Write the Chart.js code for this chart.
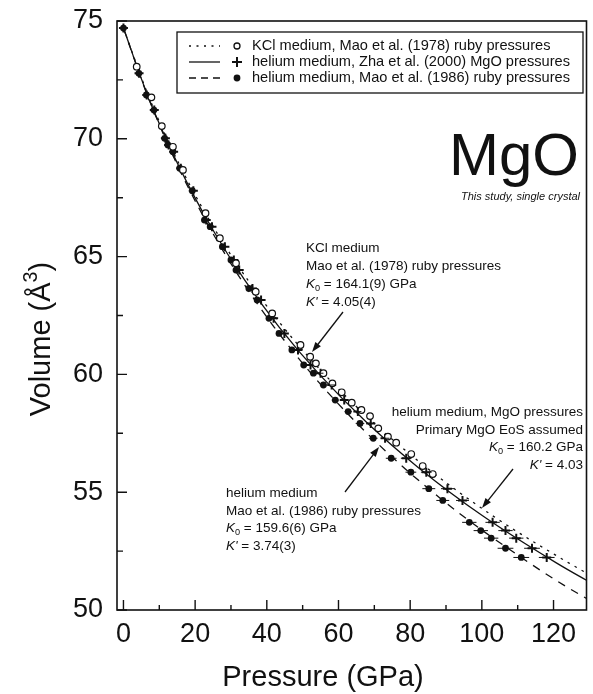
<!DOCTYPE html>
<html>
<head>
<meta charset="utf-8">
<script src="https://cdn.jsdelivr.net/npm/chart.js@4.4.1/dist/chart.umd.min.js"></script>
<style>
  html, body { margin: 0; padding: 0; background: #fff; }
  #wrap { width: 593px; height: 694px; }
</style>
</head>
<body>
<div id="wrap"><canvas id="eosChart"></canvas></div>
<script>
// ---- data: pressure P (GPa), volume V (Å^3) ----
const xTicks = [0, 20, 40, 60, 80, 100, 120];
const yTicks = [50, 55, 60, 65, 70, 75];

// KCl medium, Mao et al. (1978) ruby pressures
const kclP = [3.7, 7.8, 10.7, 13.8, 16.6, 22.9, 26.9, 31.4, 36.9, 41.5, 49.4, 52.1, 53.7, 55.8,
              58.3, 60.9, 63.7, 66.4, 68.8, 71.1, 73.8, 76.1, 80.3, 83.5, 86.3];
const kclV = [73.06, 71.76, 70.54, 69.66, 68.68, 66.84, 65.78, 64.72, 63.51, 62.59, 61.25, 60.75, 60.47, 60.05,
              59.62, 59.24, 58.80, 58.49, 58.23, 57.71, 57.36, 57.10, 56.62, 56.11, 55.77];

// helium medium: same volumes, two pressure scales
const heV     = [74.70, 72.78, 71.86, 71.22, 70.02, 69.74, 69.45, 68.75, 67.80, 66.55, 66.27, 65.42, 64.86, 64.43,
                 63.65, 63.16, 62.38, 61.74, 61.04, 60.40, 60.05, 59.55, 58.91, 58.42, 57.92, 57.29, 56.44, 55.85,
                 55.15, 54.65, 53.72, 53.37, 53.05, 52.62, 52.23];
const heRubyP = [0, 4.3, 6.4, 8.5, 11.5, 12.4, 13.8, 15.7, 19.2, 22.6, 24.2, 27.6, 30.0, 31.4,
                 35.0, 37.3, 40.6, 43.4, 47.0, 50.3, 53.0, 55.8, 59.1, 62.7, 66.0, 69.7, 74.7, 80.2,
                 85.2, 89.1, 96.5, 99.7, 102.6, 106.6, 111.0];
const heMgoP  = [0, 4.35, 6.5, 8.6, 11.7, 12.6, 14.0, 16.0, 19.5, 23.1, 24.7, 28.3, 30.8, 32.3,
                 36.0, 38.4, 41.9, 44.9, 48.7, 52.2, 55.0, 58.1, 61.6, 65.4, 69.0, 73.0, 78.9, 84.5,
                 90.4, 94.6, 103.0, 106.6, 109.6, 114.0, 118.1];
const heErrP  = [0, 0, 0, 0, 0, 0, 0, 0, 0, 0, 0, 0, 0, 0,
                 0, 0, 0.6, 0.6, 0.8, 0.8, 0.8, 1.0, 1.0, 1.0, 1.2, 1.2, 1.5, 1.5,
                 1.8, 1.8, 2.0, 2.0, 2.0, 2.2, 2.2];

// fitted EoS curves
const fitKclP  = [0, 6.51, 12.17, 18.66, 26.12, 34.72, 44.64, 56.12, 69.44, 84.93, 103.02, 124.23, 136.0];
const fitKclV  = [74.7, 72, 70, 68, 66, 64, 62, 60, 58, 56, 54, 52, 51];
const fitMgoP  = [0, 6.35, 11.87, 18.20, 25.47, 33.84, 43.49, 54.66, 67.60, 82.65, 100.21, 120.78, 132.2];
const fitMgoV  = [74.7, 72, 70, 68, 66, 64, 62, 60, 58, 56, 54, 52, 51];
const fitRubyP = [0, 6.29, 11.71, 17.87, 24.90, 32.92, 42.09, 52.60, 64.67, 78.57, 94.62, 113.23, 123.48, 134.86];
const fitRubyV = [74.7, 72, 70, 68, 66, 64, 62, 60, 58, 56, 54, 52, 51, 50];

const FONT = '"Liberation Sans", Arial, Helvetica, sans-serif';
const pts = (xs, ys) => xs.map((x, i) => ({ x: x, y: ys[i] }));

function richText(ctx, x, y, parts, size, align) {
  let w = 0;
  parts.forEach(p => {
    const s = (p.sub || p.sup) ? size * 0.68 : size;
    p._font = (p.italic ? 'italic ' : '') + s + 'px ' + FONT;
    ctx.font = p._font;
    p._w = ctx.measureText(p.t).width;
    w += p._w;
  });
  let cx = align === 'right' ? x - w : align === 'center' ? x - w / 2 : x;
  ctx.textAlign = 'left';
  ctx.textBaseline = 'middle';
  parts.forEach(p => {
    ctx.font = p._font;
    const dy = p.sub ? size * 0.32 : p.sup ? -size * 0.36 : 0;
    ctx.fillText(p.t, cx, y + dy);
    cx += p._w;
  });
}

function arrow(ctx, x1, y1, x2, y2) {
  const a = Math.atan2(y2 - y1, x2 - x1);
  ctx.beginPath();
  ctx.moveTo(x1, y1);
  ctx.lineTo(x2 - 6 * Math.cos(a), y2 - 6 * Math.sin(a));
  ctx.lineWidth = 1.3;
  ctx.stroke();
  ctx.beginPath();
  ctx.moveTo(x2, y2);
  ctx.lineTo(x2 - 10 * Math.cos(a) + 3.5 * Math.sin(a), y2 - 10 * Math.sin(a) - 3.5 * Math.cos(a));
  ctx.lineTo(x2 - 10 * Math.cos(a) - 3.5 * Math.sin(a), y2 - 10 * Math.sin(a) + 3.5 * Math.cos(a));
  ctx.closePath();
  ctx.fill();
}

// frame, inward ticks, axis titles, legend and labels
const decor = {
  id: 'decor',
  afterDatasetsDraw(chart) {
    const { ctx, chartArea: ca, scales: { x, y } } = chart;
    ctx.save();
    ctx.strokeStyle = '#111';
    ctx.fillStyle = '#111';

    // horizontal error bars on helium points
    ctx.lineWidth = 1;
    heV.forEach((v, i) => {
      const e = heErrP[i];
      if (!e) return;
      const py = y.getPixelForValue(v);
      [heRubyP[i], heMgoP[i]].forEach(p => {
        ctx.beginPath();
        ctx.moveTo(x.getPixelForValue(p - e), py);
        ctx.lineTo(x.getPixelForValue(p + e), py);
        ctx.stroke();
      });
    });

    // frame
    ctx.lineWidth = 1.6;
    ctx.strokeRect(ca.left, ca.top, ca.right - ca.left, ca.bottom - ca.top);

    // ticks pointing inward
    ctx.lineWidth = 1.4;
    ctx.beginPath();
    for (let i = 0; i < xTicks.length; i++) {
      const px = x.getPixelForValue(xTicks[i]);
      ctx.moveTo(px, ca.bottom); ctx.lineTo(px, ca.bottom - 10);
      const mx = x.getPixelForValue(xTicks[i] + 10);
      if (mx < ca.right) { ctx.moveTo(mx, ca.bottom); ctx.lineTo(mx, ca.bottom - 5); }
    }
    for (let i = 0; i < yTicks.length; i++) {
      const py = y.getPixelForValue(yTicks[i]);
      ctx.moveTo(ca.left, py); ctx.lineTo(ca.left + 10, py);
      if (i < yTicks.length - 1) {
        const my = y.getPixelForValue(yTicks[i] + 2.5);
        ctx.moveTo(ca.left, my); ctx.lineTo(ca.left + 6, my);
      }
    }
    ctx.stroke();

    // axis titles
    richText(ctx, 323, 678, [{ t: 'Pressure (GPa)' }], 29, 'center');
    ctx.save();
    ctx.translate(42, 339);
    ctx.rotate(-Math.PI / 2);
    richText(ctx, 0, 0, [{ t: 'Volume (Å' }, { t: '3', sup: true }, { t: ')' }], 29, 'center');
    ctx.restore();

    // legend
    ctx.fillStyle = '#fff';
    ctx.fillRect(177, 32, 406, 61);
    ctx.fillStyle = '#111';
    ctx.lineWidth = 1.3;
    ctx.strokeRect(177, 32, 406, 61);
    const rows = [
      { y: 46, dash: [2, 5.5], mark: 'open', text: 'KCl medium, Mao et al. (1978) ruby pressures' },
      { y: 62, dash: [], mark: 'cross', text: 'helium medium, Zha et al. (2000) MgO pressures' },
      { y: 78, dash: [7, 5], mark: 'filled', text: 'helium medium, Mao et al. (1986) ruby pressures' }
    ];
    rows.forEach(r => {
      ctx.setLineDash(r.dash);
      ctx.lineWidth = 1.3;
      ctx.beginPath(); ctx.moveTo(189, r.y); ctx.lineTo(220, r.y); ctx.stroke();
      ctx.setLineDash([]);
      if (r.mark === 'open') {
        ctx.beginPath(); ctx.arc(237, r.y, 3, 0, 2 * Math.PI); ctx.lineWidth = 1.3; ctx.stroke();
      } else if (r.mark === 'filled') {
        ctx.beginPath(); ctx.arc(237, r.y, 3.4, 0, 2 * Math.PI); ctx.fill();
      } else {
        ctx.lineWidth = 2;
        ctx.beginPath(); ctx.moveTo(232, r.y); ctx.lineTo(242, r.y); ctx.moveTo(237, r.y - 5); ctx.lineTo(237, r.y + 5); ctx.stroke();
      }
      richText(ctx, 252, r.y, [{ t: r.text }], 14.6, 'left');
    });

    // title in plot
    ctx.font = '60px ' + FONT;
    ctx.textAlign = 'right';
    ctx.textBaseline = 'alphabetic';
    ctx.fillText('MgO', 579, 175);
    richText(ctx, 580, 197, [{ t: 'This study, single crystal', italic: true }], 11, 'right');

    // fit annotations
    const S = 13.5;
    richText(ctx, 306, 248, [{ t: 'KCl medium' }], S, 'left');
    richText(ctx, 306, 266, [{ t: 'Mao et al. (1978) ruby pressures' }], S, 'left');
    richText(ctx, 306, 284, [{ t: 'K', italic: true }, { t: '0', sub: true }, { t: ' = 164.1(9) GPa' }], S, 'left');
    richText(ctx, 306, 302, [{ t: "K'", italic: true }, { t: ' = 4.05(4)' }], S, 'left');
    arrow(ctx, 343, 312, 312, 352);

    richText(ctx, 583, 412, [{ t: 'helium medium, MgO pressures' }], S, 'right');
    richText(ctx, 583, 430, [{ t: 'Primary MgO EoS assumed' }], S, 'right');
    richText(ctx, 583, 447, [{ t: 'K', italic: true }, { t: '0', sub: true }, { t: ' = 160.2 GPa' }], S, 'right');
    richText(ctx, 583, 465, [{ t: "K'", italic: true }, { t: ' = 4.03' }], S, 'right');
    arrow(ctx, 513, 469, 482, 508);

    richText(ctx, 226, 493, [{ t: 'helium medium' }], S, 'left');
    richText(ctx, 226, 511, [{ t: 'Mao et al. (1986) ruby pressures' }], S, 'left');
    richText(ctx, 226, 528, [{ t: 'K', italic: true }, { t: '0', sub: true }, { t: ' = 159.6(6) GPa' }], S, 'left');
    richText(ctx, 226, 546, [{ t: "K'", italic: true }, { t: ' = 3.74(3)' }], S, 'left');
    arrow(ctx, 345, 492, 379, 447);

    ctx.restore();
  }
};

const lineDs = (label, xs, ys, dash) => ({
  type: 'line', label: label, data: pts(xs, ys), showLine: true,
  borderColor: '#111', borderWidth: 1.3, borderDash: dash, pointRadius: 0,
  cubicInterpolationMode: 'monotone', fill: false
});

new Chart(document.getElementById('eosChart'), {
  type: 'scatter',
  data: {
    datasets: [
      { label: 'KCl, ruby', data: pts(kclP, kclV), pointStyle: 'circle', pointRadius: 3.3,
        backgroundColor: '#fff', borderColor: '#111', borderWidth: 1.2 },
      { label: 'helium, MgO', data: pts(heMgoP, heV), pointStyle: 'cross', pointRadius: 4.5,
        borderColor: '#111', borderWidth: 2 },
      { label: 'helium, ruby', data: pts(heRubyP, heV), pointStyle: 'circle', pointRadius: 3.4,
        backgroundColor: '#111', borderColor: '#111', borderWidth: 0 },
      lineDs('fit KCl', fitKclP, fitKclV, [2.5, 5.5]),
      lineDs('fit MgO', fitMgoP, fitMgoV, []),
      lineDs('fit ruby', fitRubyP, fitRubyV, [8, 7])
    ]
  },
  options: {
    responsive: true,
    maintainAspectRatio: false,
    animation: false,
    layout: { padding: { top: 21, right: 3, left: 0, bottom: 0 } },
    plugins: { legend: { display: false }, tooltip: { enabled: false } },
    scales: {
      x: {
        type: 'linear', min: -1.8, max: 129.2,
        afterBuildTicks: s => { s.ticks = xTicks.map(v => ({ value: v })); },
        afterFit: s => { s.height = 84; s.paddingLeft = 0; s.paddingRight = 0; },
        grid: { display: false, drawTicks: false },
        border: { display: false },
        ticks: { color: '#111', font: { family: FONT, size: 27 }, padding: 8, maxRotation: 0 }
      },
      y: {
        type: 'linear', min: 50, max: 75,
        afterBuildTicks: s => { s.ticks = yTicks.map(v => ({ value: v })); },
        afterFit: s => { s.width = 117; s.paddingTop = 0; s.paddingBottom = 0; },
        grid: { display: false, drawTicks: false },
        border: { display: false },
        ticks: { color: '#111', font: { family: FONT, size: 27 }, padding: 14 }
      }
    }
  },
  plugins: [decor]
});
</script>
</body>
</html>
